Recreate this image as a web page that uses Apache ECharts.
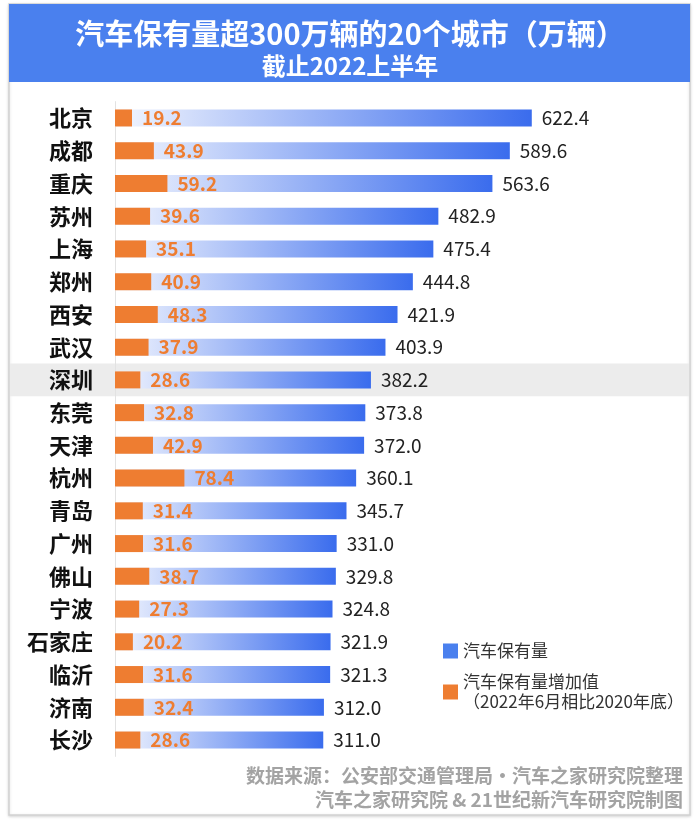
<!DOCTYPE html>
<html>
<head>
<meta charset="UTF-8">
<title>汽车保有量超300万辆的20个城市</title>
<script src="https://cdn.jsdelivr.net/npm/echarts@6/dist/echarts.min.js"></script>
<style>
  html, body { margin: 0; padding: 0; background: #fff; }
  #main { width: 700px; height: 826px; }
</style>
</head>
<body>
<div id="main"></div>
<script>
// 城市（自上而下）
var cities = ['北京', '成都', '重庆', '苏州', '上海', '郑州', '西安', '武汉', '深圳', '东莞',
              '天津', '杭州', '青岛', '广州', '佛山', '宁波', '石家庄', '临沂', '济南', '长沙'];
// 汽车保有量（万辆）
var owned = [622.4, 589.6, 563.6, 482.9, 475.4, 444.8, 421.9, 403.9, 382.2, 373.8,
             372.0, 360.1, 345.7, 331.0, 329.8, 324.8, 321.9, 321.3, 312.0, 311.0];
// 增加值（2022年6月相比2020年底）
var added = [19.2, 43.9, 59.2, 39.6, 35.1, 40.9, 48.3, 37.9, 28.6, 32.8,
             42.9, 78.4, 31.4, 31.6, 38.7, 27.3, 20.2, 31.6, 32.4, 28.6];
var highlightCity = '深圳';
var sourceLines = ['数据来源：公安部交通管理局•汽车之家研究院整理', '汽车之家研究院 & 21世纪新汽车研究院制图'];

var font = '"Noto Sans CJK SC", "Noto Sans", sans-serif';
var nameOwned = '汽车保有量';
var nameAdded = '汽车保有量增加值\n（2022年6月相比2020年底）';

var myChart = echarts.init(document.getElementById('main'));

var option = {
    animation: false,
    textStyle: { fontFamily: font },
    title: {
        text: '汽车保有量超300万辆的20个城市（万辆）',
        subtext: '截止2022上半年',
        left: 'center',
        top: 12,
        itemGap: 1,
        textStyle: { color: '#fff', fontSize: 29, fontWeight: 'bold', lineHeight: 34, fontFamily: font },
        subtextStyle: { color: '#fff', fontSize: 24, fontWeight: 'bold', lineHeight: 28, fontFamily: font }
    },
    legend: {
        orient: 'vertical',
        left: 438,
        top: 636,
        itemWidth: 15,
        itemHeight: 15,
        itemGap: 11,
        icon: 'rect',
        textStyle: { color: '#333', fontSize: 17, lineHeight: 20, fontFamily: font },
        data: [
            { name: nameOwned, itemStyle: { color: '#4a80ee' } },
            { name: nameAdded, itemStyle: { color: '#ee7d31' } }
        ]
    },
    grid: { left: 115, right: 60, top: 101.6, bottom: 69.6, containLabel: false },
    xAxis: [
        { type: 'value', min: 0, max: 784, show: false },
        { type: 'value', min: 0, max: 593, show: false }
    ],
    yAxis: {
        type: 'category',
        inverse: true,
        data: cities,
        axisTick: { show: false },
        axisLine: { lineStyle: { color: '#e2e2e2', width: 1 } },
        axisLabel: { color: '#111', fontSize: 22, fontWeight: 'bold', margin: 22, fontFamily: font }
    },
    series: [
        {
            name: nameOwned,
            type: 'bar',
            xAxisIndex: 0,
            data: owned,
            barWidth: 17,
            barGap: '-100%',
            itemStyle: {
                color: new echarts.graphic.LinearGradient(0, 0, 1, 0, [
                    { offset: 0, color: '#f3f6fe' },
                    { offset: 1, color: '#3a6ced' }
                ])
            },
            label: {
                show: true, position: 'right', distance: 10,
                color: '#222', fontSize: 19, fontFamily: font,
                formatter: function (p) { return p.value.toFixed(1); }
            }
        },
        {
            name: nameAdded,
            type: 'bar',
            xAxisIndex: 1,
            data: added,
            barWidth: 17,
            barGap: '-100%',
            itemStyle: { color: '#ee7d31' },
            label: {
                show: true, position: 'right', distance: 10,
                color: '#ee7d31', fontSize: 19, fontWeight: 'bold', fontFamily: font,
                formatter: function (p) { return p.value.toFixed(1); }
            }
        }
    ]
};
myChart.setOption(option);

// 边框、标题底色、深圳高亮行、数据来源
var cy = myChart.convertToPixel({ yAxisIndex: 0 }, highlightCity);
var band = myChart.getModel().getComponent('yAxis', 0).axis.getBandWidth();
var sourceStyle = { align: 'right', fill: '#a3a3a3', fontSize: 19, fontWeight: 'bold', fontFamily: font };
myChart.setOption({
    graphic: [
        { type: 'rect', z: -10, shape: { x: 9, y: 4, width: 681, height: 811 },
          style: { fill: '#fff', stroke: '#d2d2d2', lineWidth: 1.5,
                   shadowBlur: 3, shadowColor: 'rgba(0,0,0,0.15)', shadowOffsetY: 1 } },
        { type: 'rect', z: -9, shape: { x: 9, y: 4, width: 681, height: 78 },
          style: { fill: '#4a80ee' } },
        { type: 'rect', z: -8, shape: { x: 10, y: cy - band / 2, width: 679, height: band },
          style: { fill: '#ececec' } },
        { type: 'text', right: 17, top: 766, z: 10,
          style: echarts.util.extend({ text: sourceLines[0] }, sourceStyle) },
        { type: 'text', right: 17, top: 790, z: 10,
          style: echarts.util.extend({ text: sourceLines[1] }, sourceStyle) }
    ]
});
</script>
</body>
</html>
